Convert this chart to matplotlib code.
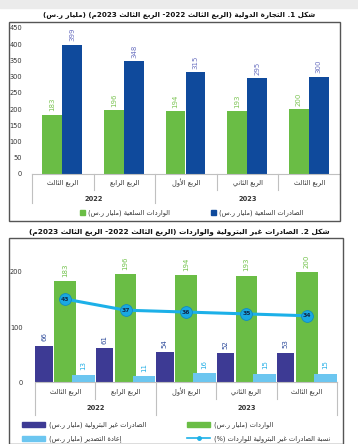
import re
import numpy as np
import matplotlib
matplotlib.use('Agg')
import matplotlib.pyplot as plt
from matplotlib.patches import Rectangle
from matplotlib.lines import Line2D
import matplotlib.transforms as mtransforms

plt.rcParams['font.family'] = ['DejaVu Sans']

# data
quarters = ['الربع الثالث', 'الربع الرابع', 'الربع الأول', 'الربع الثاني', 'الربع الثالث']
years = ['2022', '2023']
year_span = [2, 3]
imports = [183, 196, 194, 193, 200]
exports = [399, 348, 315, 295, 300]
nonoil = [66, 61, 54, 52, 53]
reexport = [13, 11, 16, 15, 15]
ratio = [43, 37, 36, 35, 34]

title1 = 'شكل 1. التجارة الدولية (الربع الثالث 2022- الربع الثالث 2023م) (مليار ر.س)'
title2 = 'شكل 2. الصادرات غير البترولية والواردات (الربع الثالث 2022- الربع الثالث 2023م)'
leg1 = ['الواردات السلعية (مليار ر.س)', 'الصادرات السلعية (مليار ر.س)']
leg2 = ['الصادرات غير البترولية (مليار ر.س)', 'الواردات (مليار ر.س)',
        'إعادة التصدير (مليار ر.س)', 'نسبة الصادرات غير البترولية للواردات (%)']

# arabic shaping (no arabic_reshaper here), presentation forms B
_dual = {'ب': 0xFE8F, 'ت': 0xFE95, 'ث': 0xFE99, 'ج': 0xFE9D, 'ح': 0xFEA1, 'خ': 0xFEA5,
         'س': 0xFEB1, 'ش': 0xFEB5, 'ص': 0xFEB9, 'ض': 0xFEBD, 'ط': 0xFEC1, 'ظ': 0xFEC5,
         'ع': 0xFEC9, 'غ': 0xFECD, 'ف': 0xFED1, 'ق': 0xFED5, 'ك': 0xFED9, 'ل': 0xFEDD,
         'م': 0xFEE1, 'ن': 0xFEE5, 'ه': 0xFEE9, 'ي': 0xFEF1}
_right = {'ا': 0xFE8D, 'أ': 0xFE83, 'إ': 0xFE87, 'آ': 0xFE81, 'ة': 0xFE93, 'د': 0xFEA9,
          'ذ': 0xFEAB, 'ر': 0xFEAD, 'ز': 0xFEAF, 'و': 0xFEED, 'ى': 0xFEEF}
_lamalef = {'ا': 0xFEFB, 'أ': 0xFEF7, 'إ': 0xFEF9, 'آ': 0xFEF5}
_mirror = {'(': ')', ')': '('}


def shape(s):
    out = []
    i = 0
    prev = False
    while i < len(s):
        c = s[i]
        if c == 'ل' and i + 1 < len(s) and s[i + 1] in _lamalef:
            out.append(chr(_lamalef[s[i + 1]] + (1 if prev else 0)))
            prev = False
            i += 2
            continue
        if c in _dual:
            nxt = s[i + 1] if i + 1 < len(s) else ''
            jn = nxt in _dual or nxt in _right
            b = _dual[c]
            if prev and jn:
                f = b + 3
            elif prev:
                f = b + 1
            elif jn:
                f = b + 2
            else:
                f = b
            out.append(chr(f))
            prev = jn
        elif c in _right:
            out.append(chr(_right[c] + (1 if prev else 0)))
            prev = False
        else:
            out.append(c)
            prev = False
        i += 1
    return ''.join(out)


def ar(s):
    parts = re.split(r'([0-9A-Za-z]+(?:[.,][0-9]+)*)', shape(s))
    vis = []
    for k, p in enumerate(parts):
        if k % 2:
            vis.append(p)
        else:
            vis.append(''.join(_mirror.get(ch, ch) for ch in reversed(p)))
    return ''.join(reversed(vis))


W, H = 358, 444


def fx(x):
    return x / W


def fy(y):
    return 1 - y / H


fig = plt.figure(figsize=(W / 100, H / 100), dpi=100)
fig.patches.append(Rectangle((0, fy(8)), 1, 8 / H, transform=fig.transFigure,
                             color='#ebebeb', zorder=0))

green = '#6abd45'
blue = '#0f4a9c'
purple = '#3d3a94'
lblue = '#6cc6f0'
cyan = '#1cb0e8'
gridc = '#c0c0c0'
x = np.arange(5)


def frame(x0, y0, x1, y1):
    fig.patches.append(Rectangle((fx(x0), fy(y1)), (x1 - x0) / W, (y1 - y0) / H,
                                 transform=fig.transFigure, fill=False,
                                 edgecolor='#555555', lw=1))


def cat_box(ax, y0, y_in, y_out, y_lab, y_year):
    tr = mtransforms.blended_transform_factory(ax.transData, fig.transFigure)
    outer = [-0.5, year_span[0] - 0.5, 4.5]
    for b in np.arange(-0.5, 5, 1):
        y_end = y_out if b in outer else y_in
        ax.add_line(Line2D([b, b], [fy(y0), fy(y_end)], transform=tr, color=gridc,
                           lw=0.8, clip_on=False))
    for i, q in enumerate(quarters):
        ax.text(i, fy(y_lab), ar(q), transform=tr, ha='center', va='center',
                fontsize=4.8, color='#333333')
    start = 0
    for yr, n in zip(years, year_span):
        ax.text(start + (n - 1) / 2, fy(y_year), yr, transform=tr, ha='center',
                va='center', fontsize=4.8, color='#333333', fontweight='bold')
        start += n


def clean(ax, pad):
    for s in ['top', 'right', 'left']:
        ax.spines[s].set_visible(False)
    ax.spines['bottom'].set_color(gridc)
    ax.spines['bottom'].set_linewidth(0.8)
    ax.set_xticks([])
    ax.tick_params(axis='y', length=0, labelsize=4.8, labelcolor='#333333', pad=pad)
    ax.set_facecolor('none')


# ---- chart 1
fig.text(0.5, fy(15), ar(title1), ha='center', va='center', fontsize=5.1,
         fontweight='bold', color='#111111')
frame(9, 22, 340, 221)
ax1 = fig.add_axes([fx(32), fy(174), (340 - 32) / W, (174 - 28) / H])
ax1.bar(x - 0.17, imports, 0.32, color=green)
ax1.bar(x + 0.155, exports, 0.32, color=blue)
for i in range(5):
    ax1.text(x[i] - 0.17, imports[i] + 10, str(imports[i]), rotation=90, ha='center',
             va='bottom', fontsize=5, color='#7cc453')
    ax1.text(x[i] + 0.155, exports[i] + 10, str(exports[i]), rotation=90, ha='center',
             va='bottom', fontsize=5, color='#6a70c0')
ax1.set_xlim(-0.5, 4.5)
ax1.set_ylim(0, 450)
ax1.set_yticks(range(0, 451, 50))
clean(ax1, 7)
cat_box(ax1, 174, 190, 203, 183, 199)

for (sx, col, txt) in [(80, green, leg1[0]), (211, blue, leg1[1])]:
    fig.patches.append(Rectangle((fx(sx), fy(215)), 5 / W, 5 / H,
                                 transform=fig.transFigure, color=col))
    fig.text(fx(sx + 8), fy(212.5), ar(txt), ha='left', va='center', fontsize=4.8,
             color='#333333')

# ---- chart 2
fig.text(0.5, fy(232), ar(title2), ha='center', va='center', fontsize=5.3,
         fontweight='bold', color='#111111')
frame(9, 238, 343, 443.5)
ax2 = fig.add_axes([fx(35), fy(382), (337 - 35) / W, 137.5 / H])
ax2.bar(x - 0.35, nonoil, 0.29, color=purple, zorder=2)
ax2.bar(x, imports, 0.36, color=green, zorder=2)
ax2.bar(x + 0.305, reexport, 0.38, color=lblue, zorder=3)
for i in range(5):
    ax2.text(x[i] - 0.35, nonoil[i] + 8, str(nonoil[i]), rotation=90, ha='center',
             va='bottom', fontsize=5, color='#2e4b9b')
    ax2.text(x[i], imports[i] + 8, str(imports[i]), rotation=90, ha='center',
             va='bottom', fontsize=5, color='#72c24b')
    ax2.text(x[i] + 0.305, reexport[i] + 8, str(reexport[i]), rotation=90, ha='center',
             va='bottom', fontsize=5, color='#22aee6')
ax2.set_xlim(-0.5, 4.5)
ax2.set_ylim(0, 250)
ax2.set_yticks([0, 100, 200])
clean(ax2, 9)

ax3 = ax2.twinx()
ax3.plot(x, ratio, color=cyan, lw=2.2, marker='o', markersize=8.5,
         markerfacecolor='#1aa8e2', markeredgecolor='#0e8cc4', markeredgewidth=0.6,
         zorder=5)
for i in range(5):
    ax3.text(x[i], ratio[i], str(ratio[i]), ha='center', va='center', fontsize=4.3,
             fontweight='bold', color='#0f2c4c', zorder=6)
ax3.set_ylim(-1.7, 72.4)
ax3.axis('off')
cat_box(ax2, 382, 399, 415, 392, 408)

for (sx, sy, kind, col, txt) in [(22, 424, 'bar', purple, leg2[0]),
                                 (187, 424, 'bar', green, leg2[1]),
                                 (22, 438, 'bar', lblue, leg2[2]),
                                 (187, 438, 'line', cyan, leg2[3])]:
    if kind == 'bar':
        fig.patches.append(Rectangle((fx(sx), fy(sy + 2.5)), 23 / W, 5 / H,
                                     transform=fig.transFigure, color=col))
    else:
        fig.lines.append(Line2D([fx(sx), fx(sx + 23)], [fy(sy), fy(sy)],
                                transform=fig.transFigure, color=col, lw=1.2))
        fig.lines.append(Line2D([fx(sx + 11.5)], [fy(sy)], transform=fig.transFigure,
                                marker='o', markersize=2.5, color=col))
    fig.text(fx(sx + 27), fy(sy + 0.5), ar(txt), ha='left', va='center', fontsize=4.8,
             color='#333333')

fig.savefig('out.png', dpi=100)
